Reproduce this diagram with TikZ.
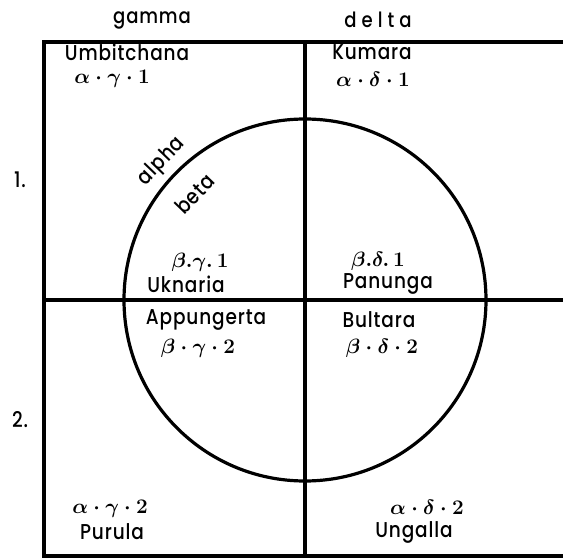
\documentclass[tikz,border=0pt]{standalone}
\usepackage{fontspec}
\setsansfont[LetterSpace=4,FakeStretch=0.86]{Poppins Medium}
\newfontfamily\widefont[LetterSpace=24,FakeStretch=0.86]{Poppins Medium}

\begin{document}
\begin{tikzpicture}[x=1pt,y=1pt,line width=3.2pt,
        kin/.style={font=\sffamily\fontsize{21.5}{24}\selectfont},
        cls/.style={font=\boldmath\fontsize{20.74}{24}\selectfont},
        head/.style={font=\sffamily\fontsize{21}{24}\selectfont}]
        \useasboundingbox (-305,-260) rectangle (258,300);
        % frame, cut off on the right
        \draw (263,258) -- (-261,258) -- (-261,-256) -- (263,-256);
        \draw (0,258) -- (0,-256);
        \draw (-261,0) -- (263,0);
        \draw (0,0) circle (181);
        % column and row heads
        \node (gam) [head] at (-153,280) {gamma};
        \node (del) [head] at (73,280) {\widefont delta};
        \node (one) [kin] at (-285,120) {1.};
        \node (two) [kin] at (-285,-120) {2.};
        % alpha / beta across the circle
        \node (alp) [kin, rotate=46] at (136:199) {alpha};
        \node (bet) [kin, rotate=46] at (136:153) {beta};
        % sections
        \node (umb) [kin] at (-178,248) {Umbitchana};
        \node (ag1) [cls] at (-193,221) {$\alpha\cdot\gamma\cdot1$};
        \node (kum) [kin] at (67,248) {Kumara};
        \node (ad1) [cls] at (68,221) {$\alpha\cdot\delta\cdot1$};
        \node (bg1) [cls] at (-105,38) {$\beta.\gamma.\,1$};
        \node (ukn) [kin] at (-119,16) {Uknaria};
        \node (bd1) [cls] at (73,39) {$\beta.\delta.\,1$};
        \node (pan) [kin] at (83,16) {Panunga};
        \node (app) [kin] at (-99,-20) {Appungerta};
        \node (bg2) [cls] at (-107,-48) {$\beta\cdot\gamma\cdot2$};
        \node (bul) [kin] at (74,-20) {Bultara};
        \node (bd2) [cls] at (77,-48) {$\beta\cdot\delta\cdot2$};
        \node (ag2) [cls] at (-195,-209) {$\alpha\cdot\gamma\cdot2$};
        \node (pur) [kin] at (-193,-232) {Purula};
        \node (ad2) [cls] at (122,-207) {$\alpha\cdot\delta\cdot2$};
        \node (ung) [kin] at (109,-232) {Ungalla};
    \end{tikzpicture}
\end{document}
